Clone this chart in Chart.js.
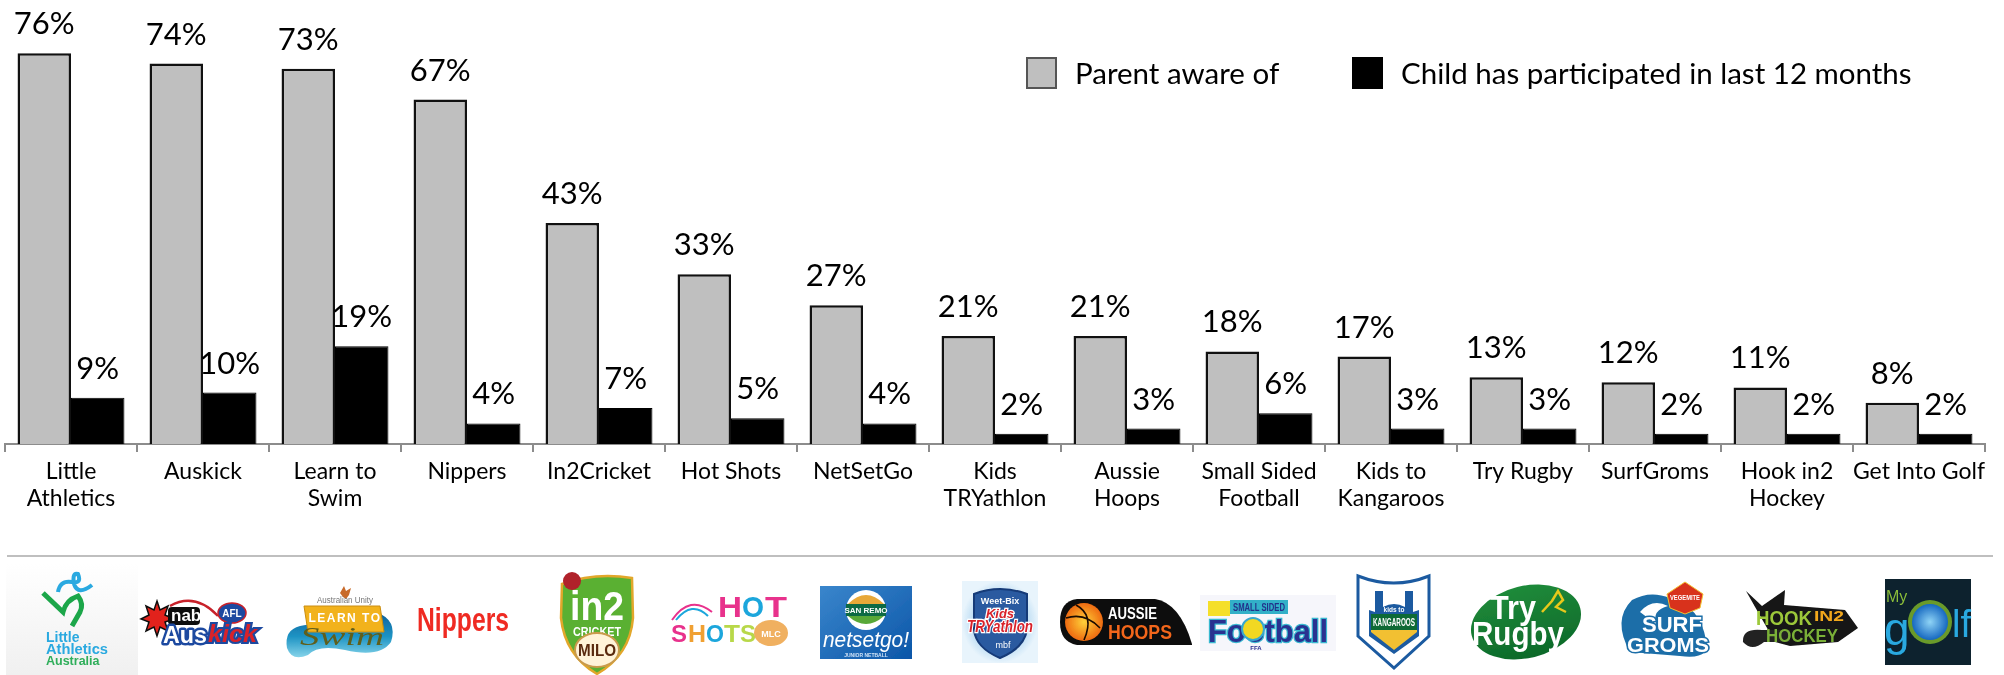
<!DOCTYPE html>
<html>
<head>
<meta charset="utf-8">
<script src="https://cdn.jsdelivr.net/npm/chart.js@4"></script>
<style>
html,body{margin:0;padding:0;background:#fff;width:2004px;height:675px;overflow:hidden}
#wrap{position:relative;width:2004px;height:675px}
canvas{position:absolute;left:0;top:0}
#logos{position:absolute;left:0;top:0}
#logos text{font-family:"Liberation Sans",sans-serif}
</style>
</head>
<body>
<div id="wrap">
<canvas id="c" width="2004" height="675"></canvas>
<svg id="logos" width="2004" height="675" viewBox="0 0 2004 675">
  <defs>
    <filter id="soft"><feGaussianBlur stdDeviation="0.45"/></filter>
    <linearGradient id="panel" x1="0" y1="0" x2="0" y2="1"><stop offset="0" stop-color="#fff"/><stop offset="1" stop-color="#f0f0f0"/></linearGradient>
    <linearGradient id="swimBlue" x1="0" y1="0" x2="0" y2="1"><stop offset="0" stop-color="#0a5f9c"/><stop offset=".55" stop-color="#1f94c4"/><stop offset="1" stop-color="#86d4ea"/></linearGradient>
    <linearGradient id="net" x1="0" y1="0" x2="1" y2="1"><stop offset="0" stop-color="#3a86cc"/><stop offset="1" stop-color="#0c56a8"/></linearGradient>
    <radialGradient id="ball"><stop offset="0" stop-color="#ffd23a"/><stop offset="1" stop-color="#ee6a10"/></radialGradient>
    <radialGradient id="globe"><stop offset="0" stop-color="#8fd4f6"/><stop offset="1" stop-color="#1668c0"/></radialGradient>
    <linearGradient id="rugby" x1="0" y1="0" x2="0" y2="1"><stop offset="0" stop-color="#1f8a3a"/><stop offset="1" stop-color="#0d6a2a"/></linearGradient>
    <radialGradient id="burst"><stop offset="0" stop-color="#5aa8e0"/><stop offset="1" stop-color="#e8f4fc"/></radialGradient>
  </defs>
  <g filter="url(#soft)">
    <!-- Little Athletics Australia -->
    <rect x="6" y="563" width="132" height="112" fill="url(#panel)"/>
    <path d="M58 592 Q60 580 72 582 Q82 584 78 574 Q72 572 74 584 Q78 596 92 585" fill="none" stroke="#29a9e0" stroke-width="4"/>
    <path d="M43 593 L63 612 Q66 600 78 596 Q84 604 80 612 L72 626" fill="none" stroke="#1aa64a" stroke-width="5"/>
    <text x="46" y="642" font-size="14" font-weight="700" fill="#29a9e0">Little</text>
    <text x="46" y="654" font-size="14" font-weight="700" fill="#29a9e0" textLength="62" lengthAdjust="spacingAndGlyphs">Athletics</text>
    <text x="46" y="665" font-size="12.5" font-weight="700" fill="#2fae5a">Australia</text>

    <!-- Auskick -->
    <polygon points="157,601 160,610 168,606 165,615 174,619 165,622 168,631 160,627 157,636 154,627 146,631 149,622 141,619 149,615 146,606 154,610" fill="#e2231a" stroke="#111" stroke-width="1.5"/>
    <rect x="168" y="607" width="32" height="18" rx="4" fill="#111"/>
    <text x="171" y="621" font-size="17" font-weight="700" fill="#fff">nab</text>
    <path d="M170 606 Q195 592 218 616" fill="none" stroke="#c8202a" stroke-width="2.5"/>
    <ellipse cx="232" cy="613" rx="14" ry="10" fill="#1e4aa0" stroke="#c8202a" stroke-width="1.5"/>
    <text x="232" y="617" font-size="10" font-weight="700" fill="#fff" text-anchor="middle">AFL</text>
    <text x="163" y="643" font-size="24" font-weight="900" fill="#fff" stroke="#1e4aa0" paint-order="stroke" stroke-linejoin="round" style="stroke-width:5px" textLength="44" lengthAdjust="spacingAndGlyphs">Aus</text>
    <text x="208" y="642" font-size="23" font-weight="900" fill="#d8232a" stroke="#1e4aa0" paint-order="stroke" style="stroke-width:4px" font-style="italic" textLength="49" lengthAdjust="spacingAndGlyphs">kick</text>

    <!-- Learn to Swim -->
    <path d="M340 593 l4 -7 2 5 5 -3 -2 7 -3 4 -3 -2z" fill="#c86a2a"/>
    <text x="345" y="603" font-size="8.5" fill="#777" text-anchor="middle" textLength="56" lengthAdjust="spacingAndGlyphs">Australian Unity</text>
    <path d="M287 648 Q284 630 300 626 L376 612 Q398 620 391 642 Q380 658 345 650 Q318 644 308 655 Q292 662 287 648z" fill="url(#swimBlue)"/>
    <path d="M304 606 H380 L384 632 H308z" fill="#f2b21b" stroke="#c98c10"/>
    <text x="345" y="622" font-size="12" font-weight="700" fill="#fff" letter-spacing="1.5" text-anchor="middle">LEARN TO</text>
    <text x="300" y="645" font-size="26" font-style="italic" fill="#5f5e1c" textLength="84" lengthAdjust="spacingAndGlyphs" style="font-family:'Liberation Serif'">Swim</text>

    <!-- Nippers -->
    <text x="417" y="631" font-size="34" font-weight="700" fill="#ef2b24" textLength="92" lengthAdjust="spacingAndGlyphs">Nippers</text>

    <!-- in2 CRICKET -->
    <path d="M562 584 Q595 572 632 578 L633 618 Q630 655 597 674 Q565 655 561 618z" fill="#5ab030" stroke="#e2a72c" stroke-width="2.5"/>
    <circle cx="572" cy="581" r="9" fill="#b0202a"/>
    <text x="597" y="620" font-size="40" font-weight="900" fill="#fff" text-anchor="middle" textLength="54" lengthAdjust="spacingAndGlyphs">in2</text>
    <text x="597" y="636" font-size="13" font-weight="700" fill="#fff" text-anchor="middle" textLength="48" lengthAdjust="spacingAndGlyphs">CRICKET</text>
    <ellipse cx="597" cy="650" rx="22" ry="17" fill="#fff3d8" stroke="#c99a4c" stroke-width="2"/>
    <text x="597" y="656" font-size="17" font-weight="900" fill="#5a2a10" text-anchor="middle" textLength="38" lengthAdjust="spacingAndGlyphs">MILO</text>

    <!-- Hot Shots -->
    <path d="M672 620 Q690 594 712 612" fill="none" stroke="#e8308c" stroke-width="2"/>
    <path d="M676 620 Q692 600 708 616" fill="none" stroke="#1aa6dc" stroke-width="2"/>
    <text x="718" y="617" font-size="30" font-weight="900" fill="#e8308c" textLength="24" lengthAdjust="spacingAndGlyphs">H</text>
    <text x="742" y="617" font-size="30" font-weight="900" fill="#1aa6dc" textLength="22" lengthAdjust="spacingAndGlyphs">O</text>
    <text x="765" y="617" font-size="30" font-weight="900" fill="#e8308c" textLength="22" lengthAdjust="spacingAndGlyphs">T</text>
    <text x="671" y="642" font-size="24" font-weight="900" fill="#e8308c" textLength="16" lengthAdjust="spacingAndGlyphs">S</text>
    <text x="688" y="642" font-size="24" font-weight="900" fill="#f0a030" textLength="18" lengthAdjust="spacingAndGlyphs">H</text>
    <text x="706" y="642" font-size="24" font-weight="900" fill="#1aa6dc" textLength="18" lengthAdjust="spacingAndGlyphs">O</text>
    <text x="724" y="642" font-size="24" font-weight="900" fill="#b8d84a" textLength="16" lengthAdjust="spacingAndGlyphs">T</text>
    <text x="740" y="642" font-size="24" font-weight="900" fill="#b8d84a" textLength="16" lengthAdjust="spacingAndGlyphs">S</text>
    <ellipse cx="771" cy="633" rx="17" ry="13" fill="#f0b060"/>
    <text x="771" y="637" font-size="9" font-weight="700" fill="#fff" text-anchor="middle">MLC</text>

    <!-- netsetgo -->
    <rect x="820" y="586" width="92" height="73" fill="url(#net)"/>
    <ellipse cx="866" cy="610" rx="20" ry="20" fill="#fff"/>
    <path d="M848 604 Q866 586 884 604z" fill="#e8a838"/>
    <path d="M848 616 Q866 632 884 616z" fill="#58a838"/>
    <rect x="846" y="604" width="40" height="12" fill="#0c6a44"/>
    <text x="866" y="613" font-size="8" font-weight="700" fill="#fff" text-anchor="middle">SAN REMO</text>
    <text x="866" y="647" font-size="22" font-style="italic" fill="#fff" text-anchor="middle" textLength="86" lengthAdjust="spacingAndGlyphs">netsetgo!</text>
    <text x="866" y="657" font-size="5" font-weight="700" fill="#cfe2f6" text-anchor="middle">JUNIOR NETBALL</text>

    <!-- Weet-Bix Kids TRYathlon -->
    <rect x="962" y="581" width="76" height="82" fill="url(#burst)"/>
    <path d="M974 594 Q1000 584 1027 594 L1027 630 Q1024 648 1000 658 Q976 648 974 630z" fill="#2a5aa0" stroke="#173a78" stroke-width="2"/>
    <text x="1000" y="604" font-size="9" font-weight="700" fill="#fff" text-anchor="middle">Weet-Bix</text>
    <text x="1000" y="618" font-size="13" font-weight="900" font-style="italic" fill="#d8202a" stroke="#fff" paint-order="stroke" style="stroke-width:2.5px" text-anchor="middle">Kids</text>
    <text x="1000" y="632" font-size="16" font-weight="900" font-style="italic" fill="#d8202a" stroke="#fff" paint-order="stroke" style="stroke-width:2.5px" text-anchor="middle" textLength="66" lengthAdjust="spacingAndGlyphs">TRYathlon</text>
    <text x="1003" y="648" font-size="9" fill="#fff" text-anchor="middle">mbf</text>

    <!-- Aussie Hoops -->
    <path d="M1077 599 H1155 Q1180 603 1192 644 L1192 645 H1077 Q1060 642 1060 622 Q1060 601 1077 599z" fill="#0a0a0a"/>
    <circle cx="1084" cy="622" r="19" fill="url(#ball)"/>
    <path d="M1066 618 Q1085 612 1100 628 M1076 605 Q1095 615 1084 640" fill="none" stroke="#1a0a00" stroke-width="1.6"/>
    <text x="1108" y="619" font-size="16" font-weight="700" fill="#fff" textLength="49" lengthAdjust="spacingAndGlyphs">AUSSIE</text>
    <text x="1108" y="639" font-size="20" font-weight="700" fill="#f2661a" textLength="64" lengthAdjust="spacingAndGlyphs">HOOPS</text>

    <!-- Small Sided Football -->
    <rect x="1200" y="595" width="136" height="56" fill="#f6f6fb"/>
    <rect x="1208" y="601" width="22" height="15" fill="#f5df2a"/>
    <rect x="1230" y="600" width="58" height="14" fill="#30b0c8"/>
    <text x="1259" y="611" font-size="10" font-weight="700" fill="#24308a" text-anchor="middle" textLength="52" lengthAdjust="spacingAndGlyphs">SMALL SIDED</text>
    <text x="1268" y="642" font-size="32" font-weight="900" fill="#2a3090" stroke="#38b8d0" paint-order="stroke" style="stroke-width:2.5px" text-anchor="middle" textLength="120" lengthAdjust="spacingAndGlyphs">Football</text>
    <circle cx="1253" cy="629" r="11" fill="#f2d820" stroke="#38a8d0" stroke-width="2"/>
    <text x="1256" y="650" font-size="6" font-weight="700" fill="#2a3090" text-anchor="middle">FFA</text>

    <!-- Kids to Kangaroos -->
    <path d="M1358 576 Q1394 590 1429 576 L1429 636 L1394 668 L1358 636z" fill="#fff" stroke="#1a5aa0" stroke-width="3"/>
    <path d="M1369 610 L1375 612 V591 H1383 V607 Q1394 601 1405 607 V591 H1413 V612 L1419 610 V636 L1394 654 L1369 636z" fill="#1a5aa0"/>
    <path d="M1371 614 H1417 V632 L1394 650 L1371 632z" fill="#f2c030"/>
    <rect x="1371" y="614" width="46" height="16" fill="#0e6a36"/>
    <text x="1394" y="626" font-size="10" font-weight="700" fill="#fff" text-anchor="middle" textLength="42" lengthAdjust="spacingAndGlyphs">KANGAROOS</text>
    <text x="1394" y="612" font-size="6.5" font-weight="700" fill="#fff" text-anchor="middle">kids to</text>

    <!-- Try Rugby -->
    <ellipse cx="1526" cy="622" rx="56" ry="36" fill="url(#rugby)" transform="rotate(-14 1526 622)"/>
    <text x="1490" y="619" font-size="34" font-weight="900" fill="#fff" textLength="46" lengthAdjust="spacingAndGlyphs">Try</text>
    <text x="1472" y="645" font-size="34" font-weight="900" fill="#fff" textLength="92" lengthAdjust="spacingAndGlyphs">Rugby</text>
    <path d="M1542 612 L1552 601 L1558 591 L1563 600 L1556 607 L1566 612" fill="none" stroke="#e8c81a" stroke-width="2.5"/>

    <!-- Surf Groms -->
    <path d="M1630 652 Q1612 620 1632 600 Q1650 590 1670 598 Q1700 606 1706 640 Q1712 660 1680 656z" fill="#1c6ea8"/>
    <path d="M1640 612 Q1652 598 1668 606 Q1652 610 1656 624z" fill="#fff"/>
    <polygon points="1685,582 1703,594 1700,608 1685,614 1670,608 1667,594" fill="#d8301e" stroke="#f2c030"/>
    <text x="1685" y="600" font-size="7" font-weight="700" fill="#fff" text-anchor="middle" textLength="30" lengthAdjust="spacingAndGlyphs">VEGEMITE</text>
    <text x="1672" y="632" font-size="22" font-weight="900" fill="#fff" stroke="#1c6ea8" paint-order="stroke" style="stroke-width:3px" text-anchor="middle" textLength="60" lengthAdjust="spacingAndGlyphs">SURF</text>
    <text x="1668" y="652" font-size="20" font-weight="900" fill="#fff" stroke="#1c6ea8" paint-order="stroke" style="stroke-width:3px" text-anchor="middle" textLength="82" lengthAdjust="spacingAndGlyphs">GROMS</text>

    <!-- Hook in2 Hockey -->
    <path d="M1746 591 L1762 606 L1785 590 L1784 605 L1845 610 L1858 628 L1838 642 L1790 646 L1775 642z" fill="#141414"/>
    <path d="M1790 630 L1762 630 Q1742 628 1743 642 Q1752 652 1764 642 L1790 642z" fill="#222"/>
    <text x="1756" y="625" font-size="21" font-weight="900" fill="#9cc83a" textLength="56" lengthAdjust="spacingAndGlyphs">HOOK</text>
    <text x="1814" y="621" font-size="15" font-weight="900" fill="#f2a81e" textLength="30" lengthAdjust="spacingAndGlyphs">IN2</text>
    <text x="1766" y="642" font-size="19" font-weight="900" fill="#7ab038" textLength="72" lengthAdjust="spacingAndGlyphs">HOCKEY</text>

    <!-- My Golf -->
    <rect x="1885" y="579" width="86" height="86" fill="#07202e"/>
    <circle cx="1930" cy="622" r="22" fill="#6a9a2a"/>
    <circle cx="1930" cy="622" r="18" fill="url(#globe)"/>
    <text x="1886" y="602" font-size="16" fill="#8cbc3a">My</text>
    <text x="1884" y="645" font-size="46" fill="#29a9e0">g</text>
    <text x="1952" y="637" font-size="38" fill="#29a9e0">lf</text>
  </g>
</svg>
</div>
<script>
// Program names, split across lines as they are set under the axis
const categories = [
  ["Little","Athletics"],"Auskick",["Learn to","Swim"],"Nippers","In2Cricket",
  "Hot Shots","NetSetGo",["Kids","TRYathlon"],["Aussie","Hoops"],["Small Sided","Football"],
  ["Kids to","Kangaroos"],"Try Rugby","SurfGroms",["Hook in2","Hockey"],"Get Into Golf"
];
const parentAware = [76,74,73,67,43,33,27,21,21,18,17,13,12,11,8];
const childParticipated = [9,10,19,4,7,5,4,2,3,6,3,3,2,2,2];
const seriesNames = ["Parent aware of","Child has participated in last 12 months"];

const FONT = 'Lato, "Open Sans", sans-serif';

// Percentages above each bar
const valueLabels = {
  id:'valueLabels',
  afterDatasetsDraw(chart){
    const ctx = chart.ctx;
    ctx.save();
    ctx.fillStyle = '#000';
    ctx.textAlign = 'center';
    ctx.textBaseline = 'alphabetic';
    ctx.font = '31px ' + FONT;
    chart.data.datasets.forEach((ds,i)=>{
      chart.getDatasetMeta(i).data.forEach((bar,j)=>{
        ctx.fillText(ds.data[j] + '%', bar.x, bar.y - 19);
      });
    });
    ctx.restore();
  }
};

// Legend keys and names along the top right
const topLegend = {
  id:'topLegend',
  afterDraw(chart){
    const ctx = chart.ctx;
    const keys = [[1026,1075],[1352,1401]];
    ctx.save();
    ctx.font = '29.5px ' + FONT;
    ctx.textBaseline = 'alphabetic';
    ctx.textAlign = 'left';
    chart.data.datasets.forEach((ds,i)=>{
      ctx.fillStyle = ds.backgroundColor;
      ctx.fillRect(keys[i][0],57,31,32);
      ctx.strokeStyle = i === 0 ? '#555' : ds.borderColor;
      ctx.lineWidth = 2;
      ctx.strokeRect(keys[i][0]+1,58,29,30);
      ctx.fillStyle = '#000';
      ctx.fillText(ds.label,keys[i][1],84);
    });
    // rule above the logo strip
    ctx.fillStyle = '#bfbfbf';
    ctx.fillRect(7,555,1986,2);
    ctx.restore();
  }
};

new Chart(document.getElementById('c'),{
  type:'bar',
  data:{
    labels:categories,
    datasets:[
      {label:seriesNames[0],data:parentAware,backgroundColor:'#bfbfbf',borderColor:'#111111',borderWidth:2.5,borderSkipped:'bottom'},
      {label:seriesNames[1],data:childParticipated,backgroundColor:'#000000',borderColor:'#000000',borderWidth:1,borderSkipped:'bottom'}
    ]
  },
  options:{
    responsive:false,
    animation:false,
    layout:{padding:{left:5,right:19,top:7,bottom:161}},
    plugins:{legend:{display:false},tooltip:{enabled:false},title:{display:false}},
    datasets:{bar:{categoryPercentage:0.81,barPercentage:1}},
    scales:{
      x:{
        grid:{drawOnChartArea:false,drawTicks:true,tickLength:8,color:'#8c8c8c',lineWidth:2},
        border:{display:true,color:'#8c8c8c',width:2},
        afterFit(scale){scale.height=70;},
        ticks:{color:'#000',font:{family:FONT,size:23,lineHeight:1.17},maxRotation:0,minRotation:0,autoSkip:false,padding:6}
      },
      y:{display:false,min:0,max:85}
    }
  },
  plugins:[valueLabels,topLegend]
});
</script>
</body>
</html>
